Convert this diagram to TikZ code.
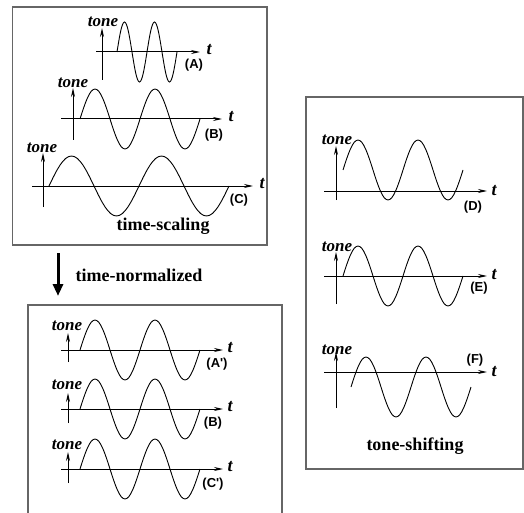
\documentclass[tikz,border=0pt]{standalone}
\usepackage{fontspec}
\setmainfont{Liberation Serif}
\newfontfamily\casefont{Liberation Sans}
\usetikzlibrary{arrows.meta}

\tikzset{
  panel/.style={line width=1.3pt, draw=black!60},
  axis/.style={line width=1pt, -{Stealth[length=9pt,width=4pt]}},
  wave/.style={line width=0.9pt},
  tonetext/.style={inner sep=0pt, font=\fontsize{17}{17}\selectfont\bfseries\itshape},
  ttext/.style={inner sep=0pt, font=\fontsize{18}{18}\selectfont\bfseries\itshape},
  casetext/.style={inner sep=0pt, font=\fontsize{13}{13}\selectfont\casefont\bfseries},
  titletext/.style={inner sep=0pt, font=\fontsize{18}{18}\selectfont\bfseries}
}

% one sine of two periods: start x, centre y, quarter period
\newcommand{\tonewave}[3]{%
  \draw[wave] (#1,#2) sin ++(#3,-30) cos ++(#3,30) sin ++(#3,30) cos ++(#3,-30)
    sin ++(#3,-30) cos ++(#3,30) sin ++(#3,30) cos ++(#3,-30);}

\begin{document}
\begin{tikzpicture}[x=1pt, y=-1pt]
  \useasboundingbox (0,0) rectangle (524,513);

  % time-scaling panel
  \draw[panel] (12.5,7) rectangle (267,245);
  % (A)
  \draw[axis] (102,80) -- (102,28);
  \draw[axis] (96,52) -- (200,52);
  \tonewave{117}{52}{7.5}
  \node[tonetext] (toneA) at (103,22) {tone};
  \node[ttext] (tA) at (209,50) {t};
  \node[casetext] (caseA) at (194,65) {(A)};
  % (B)
  \draw[axis] (73,140) -- (73,88);
  \draw[axis] (61,119) -- (222,119);
  \tonewave{80}{119}{15}
  \node[tonetext] (toneB) at (73,83) {tone};
  \node[ttext] (tB) at (231,117) {t};
  \node[casetext] (caseB) at (214,135) {(B)};
  % (C)
  \draw[axis] (43,207) -- (43,153);
  \draw[axis] (32,186) -- (253,186);
  \tonewave{49}{186}{22.5}
  \node[tonetext] (toneC) at (42,148) {tone};
  \node[ttext] (tC) at (262,184) {t};
  \node[casetext] (caseC) at (239,200) {(C)};
  \node[titletext] (scaling) at (163,226) {time-scaling};

  % normalization step
  \coordinate (arrowtop) at (58,253);
  \coordinate (arrowtip) at (58,296);
  \draw[line width=3pt, -{Triangle[length=12pt,width=10pt]}] (arrowtop) -- (arrowtip);
  \node[titletext] (normalized) at (139,275) {time-normalized};

  % time-normalized panel (open at the bottom)
  \draw[panel] (28,514) -- (28,305) -- (282,305) -- (282,514);
  % (A')
  \draw[axis] (68,362) -- (68,333);
  \draw[axis] (61,350) -- (223,350);
  \tonewave{80}{350}{15}
  \node[tonetext] (toneAn) at (67,326) {tone};
  \node[ttext] (tAn) at (230,348) {t};
  \node[casetext] (caseAn) at (217,364) {(A')};
  % (B)
  \draw[axis] (68,423) -- (68,393);
  \draw[axis] (61,409) -- (223,409);
  \tonewave{80}{409}{15}
  \node[tonetext] (toneBn) at (67,385) {tone};
  \node[ttext] (tBn) at (230,407) {t};
  \node[casetext] (caseBn) at (213,423) {(B)};
  % (C')
  \draw[axis] (68,483) -- (68,452);
  \draw[axis] (61,469) -- (223,469);
  \tonewave{80}{469}{15}
  \node[tonetext] (toneCn) at (67,445) {tone};
  \node[ttext] (tCn) at (230,467) {t};
  \node[casetext] (caseCn) at (213,484) {(C')};

  % tone-shifting panel
  \draw[panel] (306,97) rectangle (523,469);
  % (D)
  \draw[axis] (336,200) -- (336,146);
  \draw[axis] (324,191) -- (487,191);
  \tonewave{343}{170}{15}
  \node[tonetext] (toneD) at (337,140) {tone};
  \node[ttext] (tD) at (494,191) {t};
  \node[casetext] (caseD) at (473,207) {(D)};
  % (E)
  \draw[axis] (336,304) -- (336,252);
  \draw[axis] (324,276) -- (487,276);
  \tonewave{343}{276}{15}
  \node[tonetext] (toneE) at (337,247) {tone};
  \node[ttext] (tE) at (494,275) {t};
  \node[casetext] (caseE) at (479,288) {(E)};
  % (F)
  \draw[axis] (336,408) -- (336,352);
  \draw[axis] (324,372) -- (487,372);
  \tonewave{351}{387}{15}
  \node[tonetext] (toneF) at (337,350) {tone};
  \node[ttext] (tF) at (494,372) {t};
  \node[casetext] (caseF) at (475,360) {(F)};
  \node[titletext] (shifting) at (415,446) {tone-shifting};
\end{tikzpicture}
\end{document}
